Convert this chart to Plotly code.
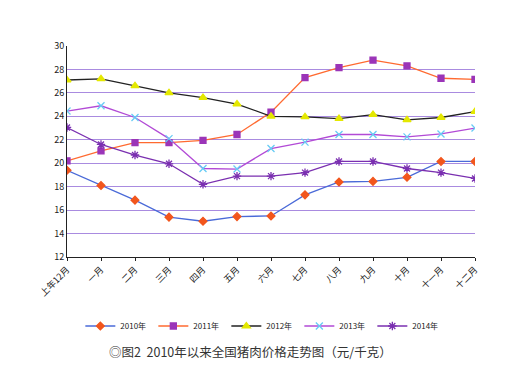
import plotly.graph_objects as go

months = ["上年12月", "一月", "二月", "三月", "四月", "五月", "六月",
          "七月", "八月", "九月", "十月", "十一月", "十二月"]
y2010 = [19.4, 18.1, 16.85, 15.4, 15.05, 15.45, 15.5, 17.3, 18.4, 18.45, 18.8, 20.15, 20.15]
y2011 = [20.2, 21.05, 21.75, 21.75, 21.95, 22.45, 24.35, 27.3, 28.15, 28.8, 28.3, 27.25, 27.15]
y2012 = [27.1, 27.2, 26.6, 26.0, 25.6, 25.05, 24.0, 23.95, 23.8, 24.15, 23.7, 23.9, 24.4]
y2013 = [24.45, 24.9, 23.9, 22.1, 19.55, 19.5, 21.25, 21.8, 22.45, 22.45, 22.25, 22.5, 23.0]
y2014 = [23.05, 21.6, 20.7, 19.95, 18.2, 18.9, 18.9, 19.2, 20.15, 20.15, 19.55, 19.2, 18.7]

series = [
    ("2010年", y2010, "#4A6AD8", "#F2561D", "diamond", 6),
    ("2011年", y2011, "#FF6A30", "#9B35B8", "square", 6),
    ("2012年", y2012, "#222222", "#E4E800", "triangle-up", 7),
    ("2013年", y2013, "#B24AD6", "#66CCF5", "x-thin", 7),
    ("2014年", y2014, "#7A2FB0", "#7A2FB0", "asterisk", 7),
]

x = list(range(len(months)))
fig = go.Figure()
for name, ys, lc, mc, sym, ms in series:
    fig.add_trace(go.Scatter(
        x=x, y=ys, name=name, mode="lines+markers",
        line=dict(color=lc, width=1.3),
        marker=dict(symbol=sym, size=ms, color=mc,
                    line=dict(color=mc, width=1.3)),
    ))

fig.update_layout(
    width=528, height=390,
    margin=dict(l=67, r=53, t=46, b=133),
    paper_bgcolor="white", plot_bgcolor="white",
    font=dict(family="Noto Sans CJK SC, sans-serif", color="#333333", size=9),
    showlegend=True,
    legend=dict(orientation="h", x=0.48, xanchor="center", y=-0.327, yanchor="middle",
                font=dict(size=8, color="#222222"), itemwidth=30,
                entrywidth=28, entrywidthmode="pixels",
                tracegroupgap=0, bgcolor="rgba(0,0,0,0)"),
    annotations=[dict(
        text="◎图2  2010年以来全国猪肉价格走势图（元/千克）",
        xref="paper", yref="paper", x=0.449, y=-0.45,
        xanchor="center", yanchor="middle", showarrow=False,
        font=dict(size=12.5, color="#333333"))],
)
fig.update_xaxes(
    range=[0, 12], tickmode="array", tickvals=x, ticktext=months,
    tickangle=-45, showgrid=False, showline=True, linecolor="#222222",
    linewidth=1, ticks="outside", ticklen=3, tickcolor="#222222",
    tickfont=dict(size=9, color="#222222"), zeroline=False, automargin=False,
)
fig.update_yaxes(
    range=[12, 30], dtick=2, showgrid=True, gridcolor="#A98BE0", gridwidth=1,
    showline=True, linecolor="#222222", linewidth=1, zeroline=False,
    ticks="", tickfont=dict(size=9, color="#222222"), automargin=False,
)
fig.write_html("out.html", config={"displayModeBar": False},
               post_script="document.body.style.margin='0';")
